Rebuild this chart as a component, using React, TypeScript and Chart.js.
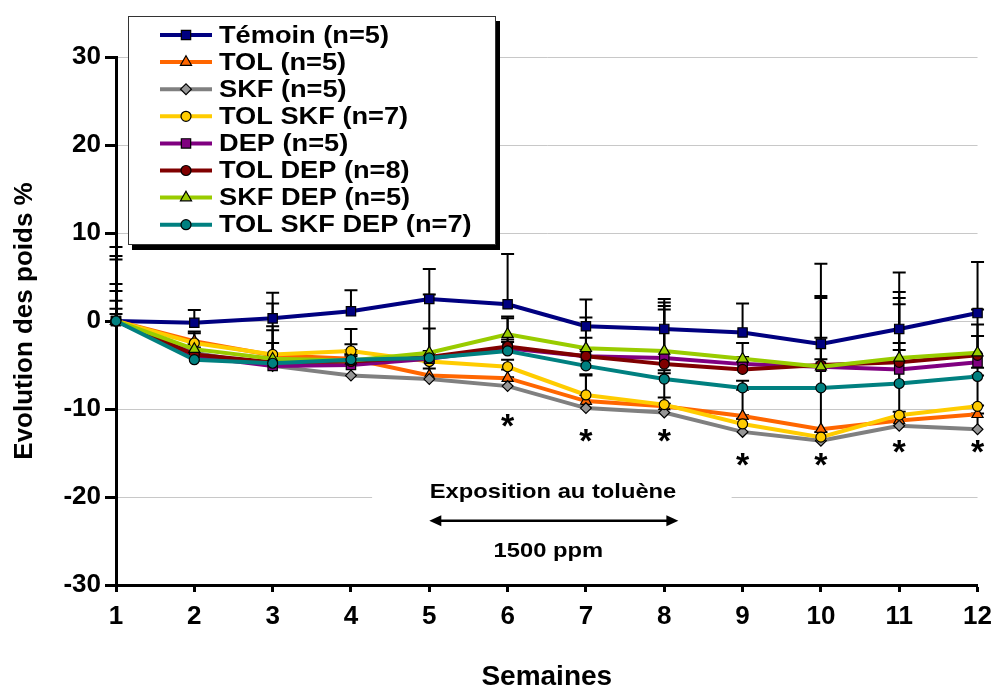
import React, { useEffect, useRef } from 'react';
import { Chart, registerables } from 'chart.js';

Chart.register(...registerables);

// ---------- data ----------
const weeks = ['1', '2', '3', '4', '5', '6', '7', '8', '9', '10', '11', '12'];

const seriesNames = [
  'Témoin (n=5)',
  'TOL (n=5)',
  'SKF (n=5)',
  'TOL SKF (n=7)',
  'DEP (n=5)',
  'TOL DEP (n=8)',
  'SKF DEP (n=5)',
  'TOL SKF DEP (n=7)',
];

const temoin = [0, -0.2, 0.3, 1.1, 2.5, 1.9, -0.6, -0.9, -1.3, -2.6, -0.9, 0.9];
const tol = [0, -2.3, -3.9, -4.3, -6.2, -6.5, -9.1, -9.7, -10.8, -12.3, -11.3, -10.6];
const skf = [0, -3.6, -5.1, -6.2, -6.6, -7.4, -9.9, -10.4, -12.6, -13.6, -11.9, -12.3];
const tolSkf = [0, -2.5, -3.8, -3.4, -4.6, -5.2, -8.4, -9.5, -11.7, -13.2, -10.7, -9.7];
const dep = [0, -4.0, -5.1, -5.0, -4.3, -3.1, -4.0, -4.2, -4.9, -5.2, -5.5, -4.7];
const tolDep = [0, -3.8, -4.7, -4.6, -4.1, -2.9, -4.0, -4.9, -5.5, -5.0, -4.7, -3.9];
const skfDep = [0, -3.2, -4.3, -4.5, -3.6, -1.5, -3.1, -3.4, -4.3, -5.2, -4.2, -3.6];
const tolSkfDep = [0, -4.4, -4.8, -4.4, -4.2, -3.4, -5.1, -6.6, -7.6, -7.6, -7.1, -6.3];

// upper error bars (SEM)
const temoinErr = [8.4, 1.45, 2.9, 2.4, 3.4, 5.7, 3.05, 3.4, 3.3, 9.1, 6.4, 5.8];
const tolErr = [7.4, 1.1, 2.85, 1.0, 1.5, 1.0, 2.9, 1.0, 3.0, 4.7, 1.0, 1.0];
const skfErr = [7.0, 1.0, 1.0, 1.5, 1.2, 1.0, 1.5, 1.0, 1.5, 1.0, 1.0, 1.8];
const tolSkfErr = [4.2, 1.1, 5.8, 2.5, 1.0, 0.8, 2.35, 3.55, 1.0, 1.0, 7.4, 3.5];
const depErr = [3.4, 0.8, 1.0, 1.0, 0.8, 1.0, 0.8, 5.9, 0.8, 7.8, 7.4, 3.0];
const tolDepErr = [2.3, 0.8, 0.8, 0.8, 7.1, 3.2, 2.1, 6.2, 0.8, 3.1, 7.3, 3.5];
const skfDepErr = [1.4, 0.6, 3.7, 0.8, 2.75, 2.0, 3.5, 5.5, 1.8, 8.05, 7.5, 4.9];
const tolSkfDepErr = [0.8, 0.8, 2.3, 1.75, 0.8, 1.0, 1.0, 1.0, 0.8, 3.25, 4.6, 1.0];

// significance stars: week and y position
const starWeeks = [6, 7, 8, 9, 10, 11, 12];
const starLevels = [-11.4, -13.1, -13.1, -15.9, -15.9, -14.4, -14.4];

const yTicks = [-30, -20, -10, 0, 10, 20, 30];

const annotTitle = 'Exposition au toluène';
const annotDose = '1500 ppm';
const exposureStart = 5;
const exposureEnd = 8.18;

// ---------- styles ----------
const lineColors = ['#000080', '#FF6600', '#808080', '#FFCC00', '#800080', '#800000', '#99CC00', '#008080'];
const fillColors = ['#000080', '#FF6600', '#969696', '#FFCC00', '#800080', '#800000', '#99CC00', '#008080'];
const pointStyles = ['rect', 'triangle', 'rectRot', 'circle', 'rect', 'circle', 'triangle', 'circle'];
const pointRadii: Record<string, number> = { rect: 6.6, triangle: 6.4, rectRot: 5.4, circle: 5 };

const FONT = "Arial, 'Liberation Sans', Helvetica, sans-serif";

const allSeries = [temoin, tol, skf, tolSkf, dep, tolDep, skfDep, tolSkfDep];
const allErrors = [temoinErr, tolErr, skfErr, tolSkfErr, depErr, tolDepErr, skfDepErr, tolSkfDepErr];

function drawMarker(ctx: CanvasRenderingContext2D, style: string, x: number, y: number, r: number, fill: string) {
  ctx.save();
  ctx.beginPath();
  if (style === 'rect') {
    const s = Math.SQRT1_2 * r;
    ctx.rect(x - s, y - s, 2 * s, 2 * s);
  } else if (style === 'triangle') {
    for (let k = 0; k < 3; k++) {
      const a = (k * 2 * Math.PI) / 3;
      const px = x + Math.sin(a) * r;
      const py = y - Math.cos(a) * r;
      if (k === 0) ctx.moveTo(px, py);
      else ctx.lineTo(px, py);
    }
    ctx.closePath();
  } else if (style === 'rectRot') {
    ctx.moveTo(x - r, y);
    ctx.lineTo(x, y - r);
    ctx.lineTo(x + r, y);
    ctx.lineTo(x, y + r);
    ctx.closePath();
  } else {
    ctx.arc(x, y, r, 0, Math.PI * 2);
  }
  ctx.fillStyle = fill;
  ctx.fill();
  ctx.lineWidth = 1.2;
  ctx.strokeStyle = '#000';
  ctx.stroke();
  ctx.restore();
}

const decorPlugin = {
  id: 'decor',
  beforeDatasetsDraw(chart: any) {
    const ctx: CanvasRenderingContext2D = chart.ctx;
    const xs = chart.scales.x;
    const ys = chart.scales.y;
    const px = (w: number) => xs.getPixelForValue(w - 1);
    const py = (v: number) => ys.getPixelForValue(v);

    // white box behind exposure annotation
    ctx.save();
    ctx.fillStyle = '#fff';
    const bx0 = px(4.27);
    const bx1 = px(8.86);
    ctx.fillRect(bx0, py(-17.2), bx1 - bx0, py(-28.6) - py(-17.2));

    ctx.fillStyle = '#000';
    ctx.textAlign = 'center';
    ctx.textBaseline = 'middle';
    ctx.font = `bold 21px ${FONT}`;
    ctx.save();
    ctx.translate(px(6.58), py(-19.5));
    ctx.scale(1.13, 1);
    ctx.fillText(annotTitle, 0, 0);
    ctx.restore();
    ctx.save();
    ctx.translate(px(6.52), py(-26.2));
    ctx.scale(1.13, 1);
    ctx.fillText(annotDose, 0, 0);
    ctx.restore();

    // arrow
    const ay = py(-22.7);
    const ax0 = px(exposureStart);
    const ax1 = px(exposureEnd);
    ctx.strokeStyle = '#000';
    ctx.lineWidth = 2.5;
    ctx.beginPath();
    ctx.moveTo(ax0 + 8, ay);
    ctx.lineTo(ax1 - 8, ay);
    ctx.stroke();
    ctx.beginPath();
    ctx.moveTo(ax0, ay);
    ctx.lineTo(ax0 + 12, ay - 5.5);
    ctx.lineTo(ax0 + 12, ay + 5.5);
    ctx.closePath();
    ctx.fill();
    ctx.beginPath();
    ctx.moveTo(ax1, ay);
    ctx.lineTo(ax1 - 12, ay - 5.5);
    ctx.lineTo(ax1 - 12, ay + 5.5);
    ctx.closePath();
    ctx.fill();
    ctx.restore();

    // error bars (upper)
    ctx.save();
    ctx.strokeStyle = '#000';
    ctx.lineWidth = 2;
    allSeries.forEach((series, si) => {
      const errs = allErrors[si];
      series.forEach((v, j) => {
        const e = errs[j];
        if (!e) return;
        const x = xs.getPixelForValue(j);
        const y0 = py(v);
        const y1 = py(v + e);
        ctx.beginPath();
        ctx.moveTo(x, y0);
        ctx.lineTo(x, y1);
        ctx.moveTo(x - 6.5, y1);
        ctx.lineTo(x + 6.5, y1);
        ctx.stroke();
      });
    });
    ctx.restore();
  },
  afterDatasetsDraw(chart: any) {
    const ctx: CanvasRenderingContext2D = chart.ctx;
    const xs = chart.scales.x;
    const ys = chart.scales.y;
    ctx.save();
    ctx.fillStyle = '#000';
    ctx.textAlign = 'center';
    ctx.textBaseline = 'middle';
    ctx.font = `bold 34px ${FONT}`;
    starWeeks.forEach((w, i) => {
      const x = xs.getPixelForValue(w - 1);
      const y = ys.getPixelForValue(starLevels[i]);
      ctx.fillText('*', x, y + 6);
    });
    ctx.restore();
  },
  afterDraw(chart: any) {
    const ctx: CanvasRenderingContext2D = chart.ctx;
    const L = 128, T = 16, W = 368, H = 229;
    ctx.save();
    ctx.fillStyle = '#000';
    ctx.fillRect(L + 4, T + 5, W, H);
    ctx.fillStyle = '#fff';
    ctx.fillRect(L, T, W, H);
    ctx.strokeStyle = '#333';
    ctx.lineWidth = 1;
    ctx.strokeRect(L + 0.5, T + 0.5, W - 1, H - 1);
    seriesNames.forEach((name, i) => {
      const y = 35 + i * 27.1;
      ctx.strokeStyle = lineColors[i];
      ctx.lineWidth = 4;
      ctx.beginPath();
      ctx.moveTo(160, y);
      ctx.lineTo(212, y);
      ctx.stroke();
      drawMarker(ctx, pointStyles[i], 186, y, pointRadii[pointStyles[i]], fillColors[i]);
      ctx.fillStyle = '#000';
      ctx.textAlign = 'left';
      ctx.textBaseline = 'middle';
      ctx.font = `bold 24.5px ${FONT}`;
      ctx.save();
      ctx.translate(219, y + 1);
      ctx.scale(1.11, 1);
      ctx.fillText(name, 0, 0);
      ctx.restore();
    });
    ctx.restore();
  },
};

export default function App() {
  const canvasRef = useRef<HTMLCanvasElement | null>(null);

  useEffect(() => {
    document.body.style.margin = '0';
    const canvas = canvasRef.current;
    if (!canvas) return;
    const datasets = allSeries.map((data, i) => ({
      label: seriesNames[i],
      data,
      borderColor: lineColors[i],
      backgroundColor: fillColors[i],
      borderWidth: 4,
      pointStyle: pointStyles[i],
      pointRadius: pointRadii[pointStyles[i]],
      pointHoverRadius: pointRadii[pointStyles[i]],
      pointBackgroundColor: fillColors[i],
      pointBorderColor: '#000',
      pointBorderWidth: 1.2,
      tension: 0,
      order: allSeries.length - i,
      clip: false as any,
    }));

    const chart = new Chart(canvas, {
      type: 'line',
      data: { labels: weeks, datasets },
      plugins: [decorPlugin],
      options: {
        responsive: false,
        animation: false,
        devicePixelRatio: 1,
        layout: { padding: { left: 0, top: 57, right: 18, bottom: 0 } },
        plugins: {
          legend: { display: false },
          tooltip: { enabled: false },
        },
        scales: {
          x: {
            type: 'category',
            offset: false,
            grid: {
              display: true,
              drawOnChartArea: false,
              drawTicks: true,
              tickLength: 7,
              tickColor: '#000',
              tickWidth: 3,
              offset: false,
            },
            border: { display: true, color: '#000', width: 3 },
            ticks: {
              color: '#000',
              font: { family: FONT, size: 26, weight: 'bold' },
              padding: 9,
              autoSkip: false,
              maxRotation: 0,
            },
            title: {
              display: true,
              text: 'Semaines',
              color: '#000',
              font: { family: FONT, size: 28, weight: 'bold', lineHeight: 1 },
              padding: 0,
            },
            afterFit: (s: any) => {
              s.height = 106;
            },
          },
          y: {
            min: -30,
            max: 30,
            afterBuildTicks: (s: any) => {
              s.ticks = yTicks.map((v) => ({ value: v }));
            },
            grid: {
              color: '#c8c8c8',
              lineWidth: 1,
              drawTicks: true,
              tickLength: 11,
              tickColor: '#000',
              tickWidth: 3,
            },
            border: { display: true, color: '#000', width: 3 },
            ticks: {
              color: '#000',
              font: { family: FONT, size: 26, weight: 'bold' },
              padding: 4,
            },
            title: {
              display: true,
              text: 'Evolution des poids %',
              color: '#000',
              font: { family: FONT, size: 26, weight: 'bold', lineHeight: 1 },
              padding: { top: 12, bottom: 0 },
            },
            afterFit: (s: any) => {
              s.width = 116;
            },
          },
        },
      } as any,
    });
    return () => chart.destroy();
  }, []);

  return (
    <div style={{ position: 'fixed', left: 0, top: 0, width: 1001, height: 691, background: '#fff' }}>
      <canvas ref={canvasRef} width={1001} height={691} style={{ display: 'block' }} />
    </div>
  );
}
